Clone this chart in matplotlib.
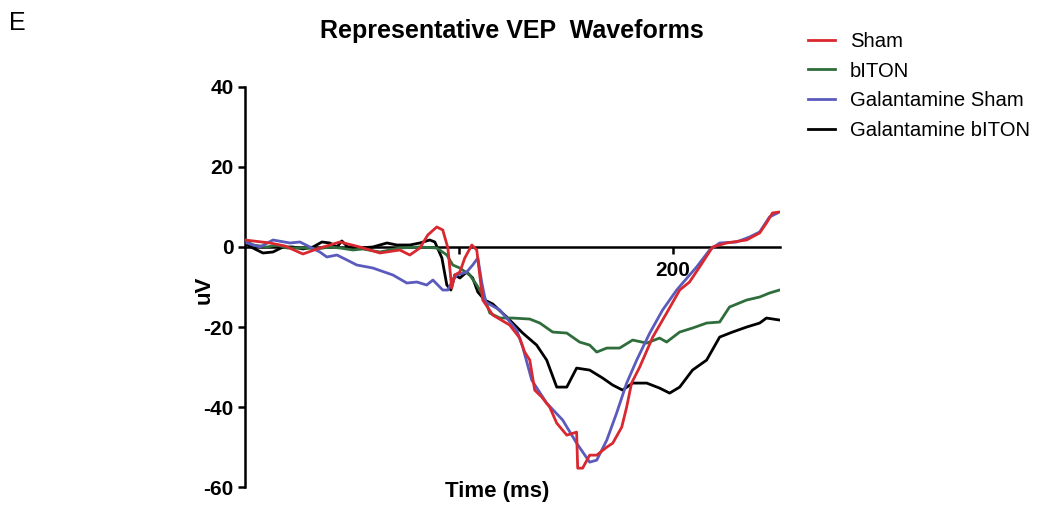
import matplotlib
matplotlib.use('Agg')
import matplotlib.pyplot as plt

plt.rcParams['font.family'] = ['Liberation Sans', 'DejaVu Sans']
plt.rcParams['axes.unicode_minus'] = False

# Sham (red)
sham_t = [0, 11.7, 18.7, 27.1, 35, 44.4, 53.7, 63.1, 72.4, 77.1, 81.8, 85.5, 89.7, 92.5,
          94.9, 96.7, 98.1, 100.5, 102.8, 106.1, 108.4, 109.8, 111.2, 115.9, 123.8, 128.5,
          130.8, 133.2, 135.5, 138.8, 142.5, 145.8, 150.5, 155.1, 155.6, 157.9, 161.2, 164.5,
          169.2, 172, 176.2, 178.5, 180.8, 184.6, 190.7, 197.2, 203.3, 207.9, 212.6, 218.7,
          225.2, 234.6, 240.7, 243.9, 246.7, 250]
sham_v = [1.75, 1.0, 0.25, -1.75, -0.25, 1.25, 0, -1.5, -0.75, -2, -0.25, 3, 5, 4.25,
          -0.25, -10.25, -7, -6.25, -2.75, 0.5, -0.75, -7, -13.25, -17, -19.5, -22.75,
          -26.25, -28.25, -35.75, -37.5, -40, -44, -47, -46.25, -55.25, -55.25, -52, -52,
          -50, -49, -45, -40, -34, -30, -22.5, -16.5, -10.75, -8.75, -5, 0,
          1, 1.75, 3.5, 6, 8.5, 8.75]

# bITON (green)
biton_t = [0, 3.7, 10.3, 15, 19.6, 29, 33.6, 39.7, 44.4, 50.5, 55.1, 63.1, 72.4, 81.8, 89.7,
           94.4, 97.2, 100.5, 105.1, 108.4, 112.1, 114.5, 119.2, 125.2, 133.2, 137.9, 143.9,
           150.5, 156.5, 161.2, 164.5, 169.2, 175.2, 181.3, 187.9, 193.9, 197.2, 203.3, 209.3,
           215.9, 222, 226.6, 234.6, 240.7, 245.3, 250]
biton_v = [1.75, 0.5, 0, 0.5, -0.25, -0.25, -0.5, 0, -0.25, -0.75, -0.5, -1.25, -0.25, 0, -0.25,
           -2, -4.5, -5.25, -7, -9.5, -12.75, -16.5, -17.75, -17.75, -18, -19, -21.25,
           -21.5, -23.75, -24.5, -26.25, -25.25, -25.25, -23.25, -24, -22.75, -23.75, -21.25, -20.25,
           -19, -18.75, -15, -13.25, -12.5, -11.5, -10.75]

# Galantamine Sham (blue)
gal_sham_t = [0.9, 7, 13.1, 21, 25.7, 30.4, 35, 38.3, 43, 47.7, 52.3, 59.8, 69.2, 75.7, 80.4,
              85, 87.9, 92.5, 94.9, 96.7, 99.1, 103.7, 106.5, 108.9, 110.7, 112.6, 119.2, 127.1,
              129.9, 134.1, 141.1, 148.6, 155.1, 161.2, 164.5, 169.2, 173.8, 178.5, 183.2, 189.3,
              195.3, 201.9, 204.7, 211.2, 217.3, 222, 229.9, 236, 240.7, 245.3, 249.1]
gal_sham_v = [1, 0, 1.75, 1, 1.25, 0, -1.25, -2.5, -2, -3.25, -4.5, -5.25, -7, -9, -8.75,
              -9.5, -8.25, -10.75, -10.75, -8.75, -7, -6.25, -4.5, -2.75, -8.75, -13.75, -15.75, -20.75,
              -25, -33.25, -39, -43.25, -49, -53.75, -53.25, -48.25, -41.5, -34, -28.25, -21.5,
              -15.75, -10.75, -9, -5, -0.75, 1, 1.25, 2.5, 3.75, 7.5, 8.5]

# Galantamine bITON (black)
gal_biton_t = [0, 3.7, 8.4, 13.1, 17.8, 22.4, 27.1, 31.8, 36, 39.7, 43, 45.3, 48.1, 53.7, 59.8,
               66.4, 71, 77.1, 81.8, 86.4, 88.8, 92.1, 94.4, 96.3, 98.1, 100.5, 103.7, 106.5,
               108.9, 112.1, 115.9, 122.4, 129.9, 136.4, 141.1, 145.8, 150.5, 155.1, 161.2, 167.3,
               172, 176.6, 181.3, 187.9, 193.9, 198.6, 203.3, 209.3, 215.9, 222, 228, 234.6,
               240.7, 243.9, 250]
gal_biton_v = [1, -0.25, -1.5, -1.25, 0, 0, -0.5, 0, 1.25, 1, 0, 1.5, 0, -0.25, 0,
               1, 0.5, 0.5, 1, 1.75, 1.25, -2.75, -9.5, -10.75, -7, -7.75, -6.25, -7.75,
               -11.25, -13.25, -14.25, -17.5, -21.5, -24.5, -28.25, -35, -35, -30.25, -30.75, -32.75,
               -34.5, -35.75, -34, -34, -35.25, -36.5, -35, -30.75, -28.25, -22.5, -21.25, -20,
               -19, -17.75, -18.25]

yticks = [-60, -40, -20, 0, 20, 40]
xticks = [100, 200]
xticklabels = ['', '200']

fig = plt.figure(figsize=(10.38, 5.08), dpi=100)
ax = fig.add_axes([0.236, 0.041, 0.515, 0.788])

lw = 2.0
l1, = ax.plot(sham_t, sham_v, color='#d9282f', lw=lw, label='Sham', zorder=5)
l2, = ax.plot(biton_t, biton_v, color='#2f6e3c', lw=lw, label='bITON', zorder=3)
l3, = ax.plot(gal_sham_t, gal_sham_v, color='#5b5bbd', lw=lw, label='Galantamine Sham', zorder=4)
l4, = ax.plot(gal_biton_t, gal_biton_v, color='black', lw=lw, label='Galantamine bITON', zorder=2)

ax.set_xlim(0, 250)
ax.set_ylim(-60, 40)
ax.spines['top'].set_visible(False)
ax.spines['right'].set_visible(False)
ax.spines['bottom'].set_position(('data', 0))
ax.spines['left'].set_linewidth(1.8)
ax.spines['bottom'].set_linewidth(1.8)
ax.spines['bottom'].set_zorder(1)

ax.set_yticks(yticks)
ax.set_xticks(xticks)
ax.set_xticklabels(xticklabels)
ax.tick_params(axis='both', direction='out', length=5, width=1.8, labelsize=15)
ax.tick_params(axis='y', pad=3)
ax.tick_params(axis='x', pad=5)
for lab in ax.get_xticklabels() + ax.get_yticklabels():
    lab.set_fontweight('bold')

fig.text(0.493, 0.938, 'Representative VEP  Waveforms', ha='center', va='center',
         fontsize=18, fontweight='bold')
fig.text(0.009, 0.955, 'E', ha='left', va='center', fontsize=18)
fig.text(0.479, 0.033, 'Time (ms)', ha='center', va='center', fontsize=16, fontweight='bold')
fig.text(0.197, 0.429, 'uV', ha='center', va='center', rotation=90, fontsize=16,
         fontweight='bold')

fig.legend(handles=[l1, l2, l3, l4], loc='upper left', bbox_to_anchor=(0.778, 0.937),
           frameon=False, fontsize=14.6, handlelength=1.33, handletextpad=0.74,
           labelspacing=0.52, borderpad=0, borderaxespad=0)

plt.savefig('out.png', dpi=100)
